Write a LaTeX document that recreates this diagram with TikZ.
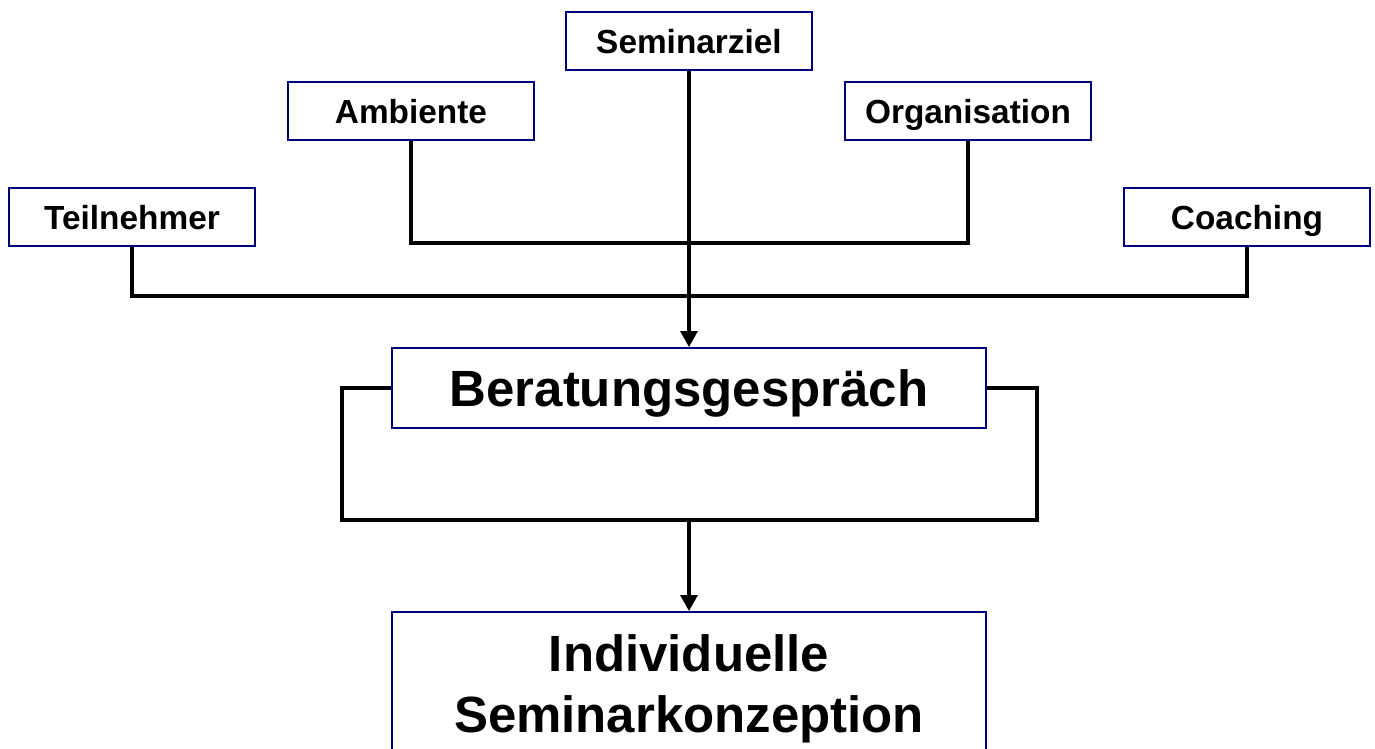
\documentclass[tikz,border=0pt]{standalone}
\usepackage{fontspec}
\setmainfont{Liberation Sans}
\usepackage{xcolor}
\usepackage{tikz}
\usetikzlibrary{arrows.meta, positioning}
\definecolor{rahmen}{RGB}{0,0,120}

\begin{document}
\begin{tikzpicture}[x=0.02cm,y=-0.02cm,line width=1.9pt,>={Triangle[length=0.32cm,width=0.34cm]},
        einfluss/.style={draw=rahmen, line width=1.1pt, minimum width=4.92cm, minimum height=1.16cm,
            text height=0.5cm, text depth=0cm, font=\fontsize{19}{23}\selectfont\bfseries},
        gross/.style={draw=rahmen, line width=1.1pt, minimum width=11.9cm, align=center,
            font=\fontsize{29}{35}\selectfont\bfseries}]
        \useasboundingbox (0,0) rectangle (1375,749);

        \node[einfluss]                     (seminarziel)   at (689,41)    {Seminarziel};
        \node[einfluss]                     (ambiente)      at (411,111)   {Ambiente};
        \node[einfluss]                     (organisation)  at (968,111)   {Organisation};
        \node[einfluss]                     (teilnehmer)    at (132,217)   {Teilnehmer};
        \node[einfluss]                     (coaching)      at (1247,217)  {Coaching};
        \node[gross, minimum height=1.6cm, text height=0.75cm, text depth=0cm]
                                            (beratung)      at (689,388)   {Beratungsgespräch};
        \node[gross, minimum height=3.08cm] (konzeption)    at (689,689)   {Individuelle\\Seminarkonzeption};

        \coordinate (knotA) at (689,243);
        \coordinate (knotB) at (689,296);
        \coordinate (rueckL) at (342,520);
        \coordinate (rueckM) at (689,520);
        \coordinate (rueckR) at (1037,520);

        \draw (ambiente.south) |- (knotA) -| (organisation.south);
        \draw (teilnehmer.south) |- (knotB) -| (coaching.south);
        \draw[->] (seminarziel.south) -- (beratung.north);
        \draw (beratung.west) -| (rueckL) -- (rueckR) |- (beratung.east);
        \draw[->] (rueckM) -- (konzeption.north);
    \end{tikzpicture}
\end{document}
